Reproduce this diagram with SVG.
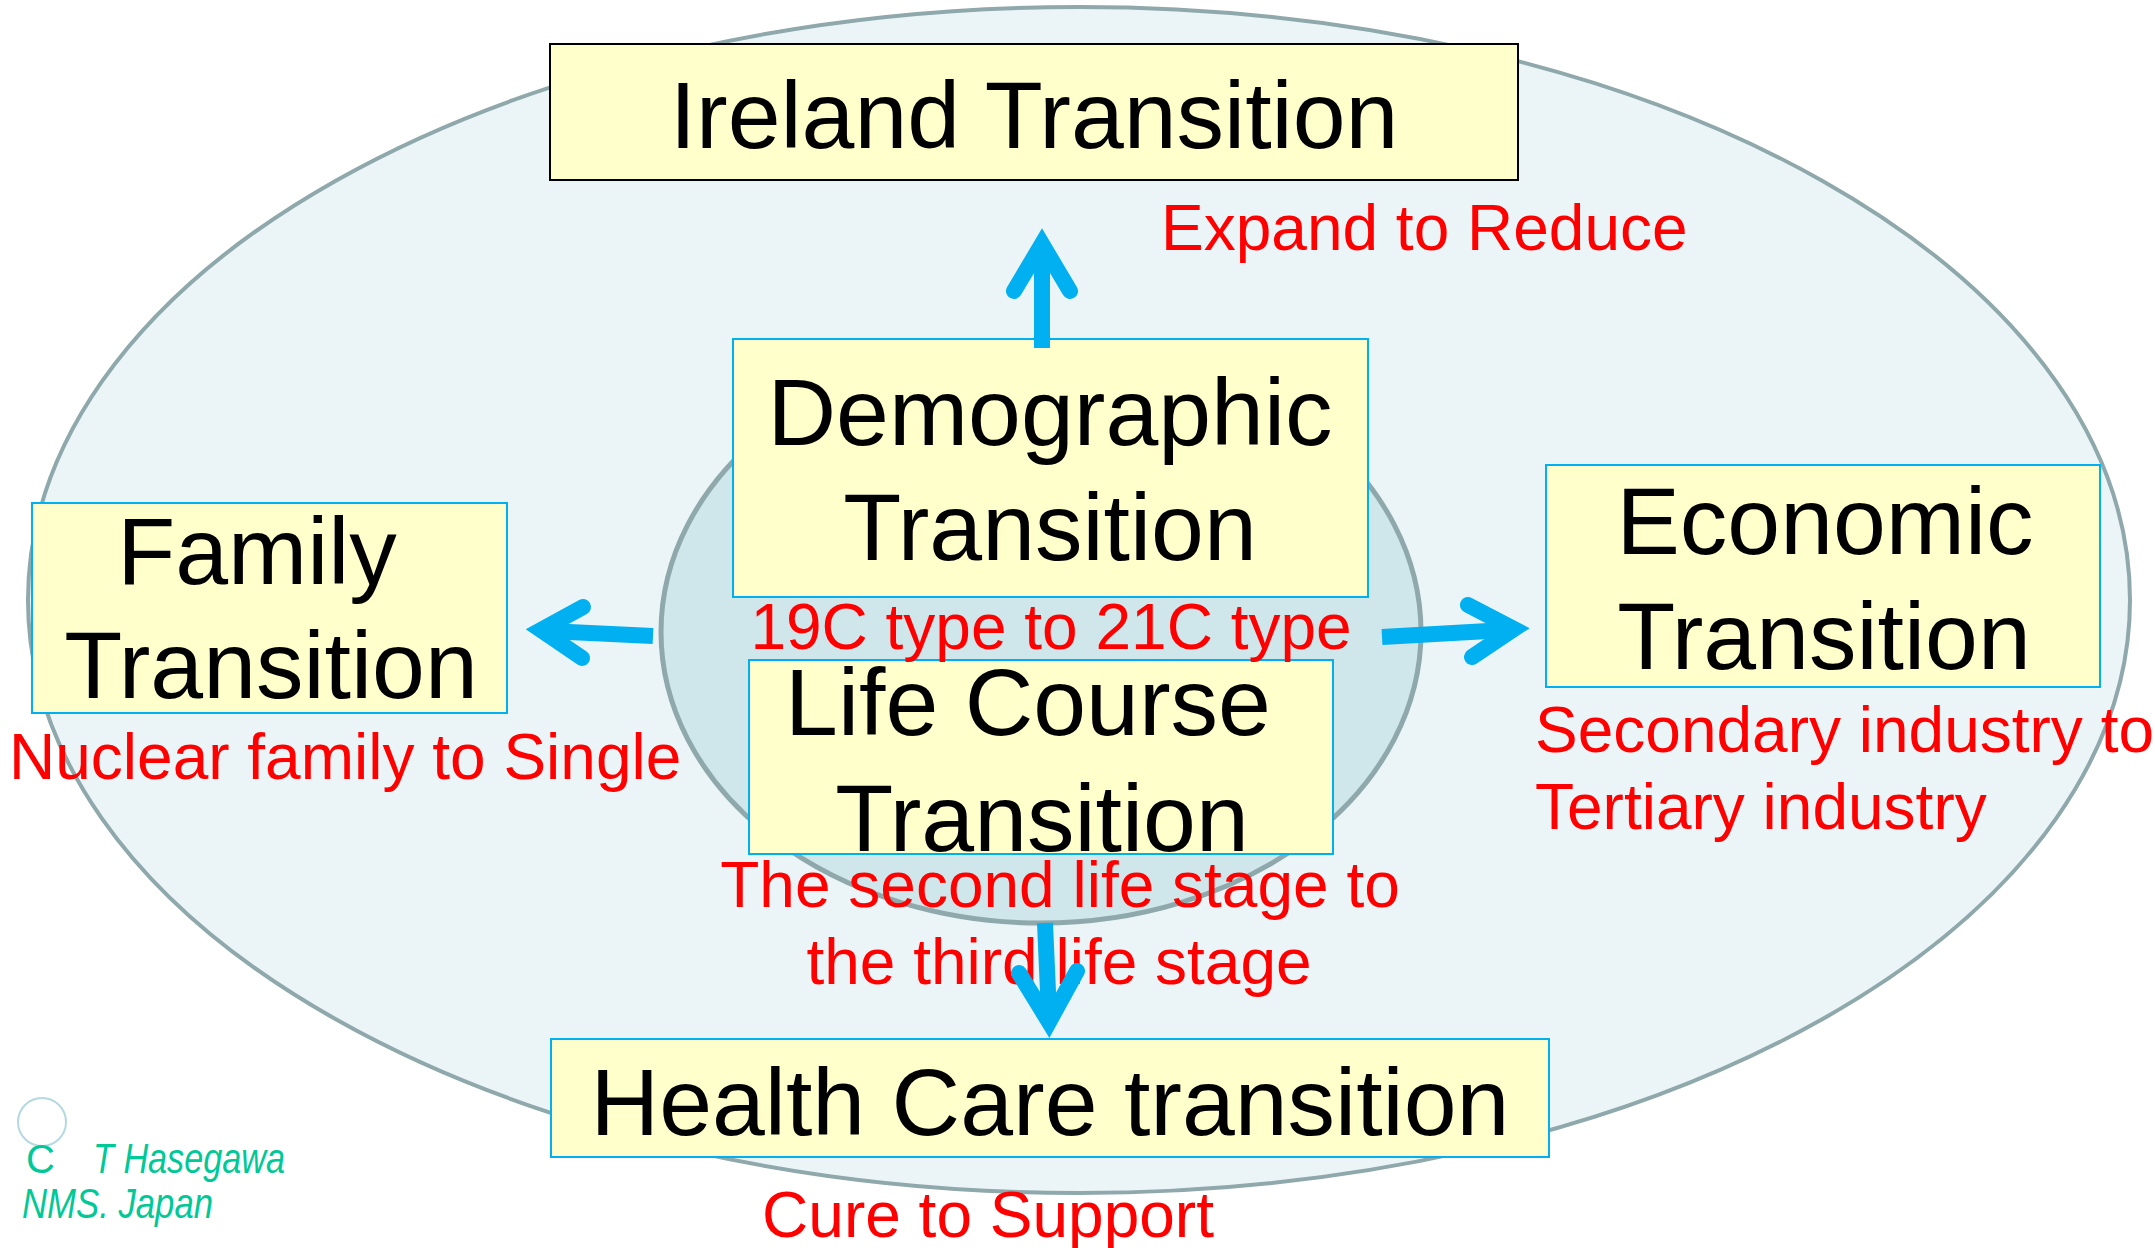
<svg xmlns="http://www.w3.org/2000/svg" width="2155" height="1248" viewBox="0 0 2155 1248">
<style>
.big{font-family:"Liberation Sans",Arial,sans-serif;font-size:95px;fill:#000;text-anchor:middle}
.red{font-family:"Liberation Sans",Arial,sans-serif;font-size:64px;fill:#FF0000}
.box{fill:#FFFFCC;stroke:#00B0F0;stroke-width:2}
.arr{fill:none;stroke:#00B0F0;stroke-width:16}
.head{fill:none;stroke:#00B0F0;stroke-width:16;stroke-linecap:round;stroke-linejoin:miter;stroke-miterlimit:10}
.cr{font-family:"Liberation Sans",Arial,sans-serif;fill:#00C896}
</style>
<rect width="2155" height="1248" fill="#FFFFFF"/>
<g id="background">
<ellipse cx="1079" cy="600" rx="1051" ry="593" fill="#EBF5F7" stroke="#8FA8AB" stroke-width="4"/>
<ellipse cx="1041" cy="632" rx="380" ry="291" fill="#CFE6EA" stroke="#8FA8AB" stroke-width="5"/>
</g>
<g id="ireland">
<rect x="550" y="44" width="968" height="136" fill="#FFFFCC" stroke="#000" stroke-width="2"/>
<text class="big" x="1034" y="148">Ireland Transition</text>
</g>
<g id="demographic">
<rect class="box" x="733" y="339" width="635" height="258"/>
<text class="big" x="1050" y="445">Demographic</text>
<text class="big" x="1050" y="560">Transition</text>
</g>
<g id="family">
<rect class="box" x="32" y="503" width="475" height="210"/>
<text class="big" x="257" y="584">Family</text>
<text class="big" x="271" y="698">Transition</text>
</g>
<g id="economic">
<rect class="box" x="1546" y="465" width="554" height="222"/>
<text class="big" x="1825" y="554">Economic</text>
<text class="big" x="1824" y="669">Transition</text>
</g>
<g id="lifecourse">
<rect class="box" x="749" y="660" width="584" height="194"/>
<text class="big" x="1028" y="735">Life Course</text>
<text class="big" x="1042" y="851">Transition</text>
</g>
<g id="healthcare">
<rect class="box" x="551" y="1039" width="998" height="118"/>
<text class="big" x="1050" y="1135">Health Care transition</text>
</g>
<g id="labels">
<text class="red" x="1161" y="250">Expand to Reduce</text>
<text class="red" x="1051" y="649" text-anchor="middle">19C type to 21C type</text>
<text class="red" x="9" y="779">Nuclear family to Single</text>
<text class="red" x="1535" y="752">Secondary industry to</text>
<text class="red" x="1535" y="829">Tertiary industry</text>
<text class="red" x="1060" y="907" text-anchor="middle">The second life stage to</text>
<text class="red" x="1059" y="984" text-anchor="middle">the third life stage</text>
<text class="red" x="988" y="1237" text-anchor="middle">Cure to Support</text>
</g>
<g id="connectors">
<path class="arr" d="M1042,348 V252"/>
<path class="head" d="M1014,291 L1042,244 L1070,291"/>
<path class="arr" d="M653,636 L548,631"/>
<path class="head" d="M583,607 L541,630 L582,658"/>
<path class="arr" d="M1382,637 L1506,630"/>
<path class="head" d="M1468,605 L1514,629 L1472,657"/>
<path class="arr" d="M1045,923 L1049,1015"/>
<path class="head" d="M1019,973 L1049,1022 L1077,971"/>
</g>
<g id="copyright">
<circle cx="42" cy="1122" r="24" fill="none" stroke="#B5D9E0" stroke-width="2"/>
<text class="cr" x="26" y="1173" font-size="40">C</text>
<text class="cr" x="93" y="1173" font-size="42" font-style="italic" textLength="192" lengthAdjust="spacingAndGlyphs">T Hasegawa</text>
<text class="cr" x="22" y="1218" font-size="42" font-style="italic" textLength="191" lengthAdjust="spacingAndGlyphs">NMS. Japan</text>
</g>
</svg>
